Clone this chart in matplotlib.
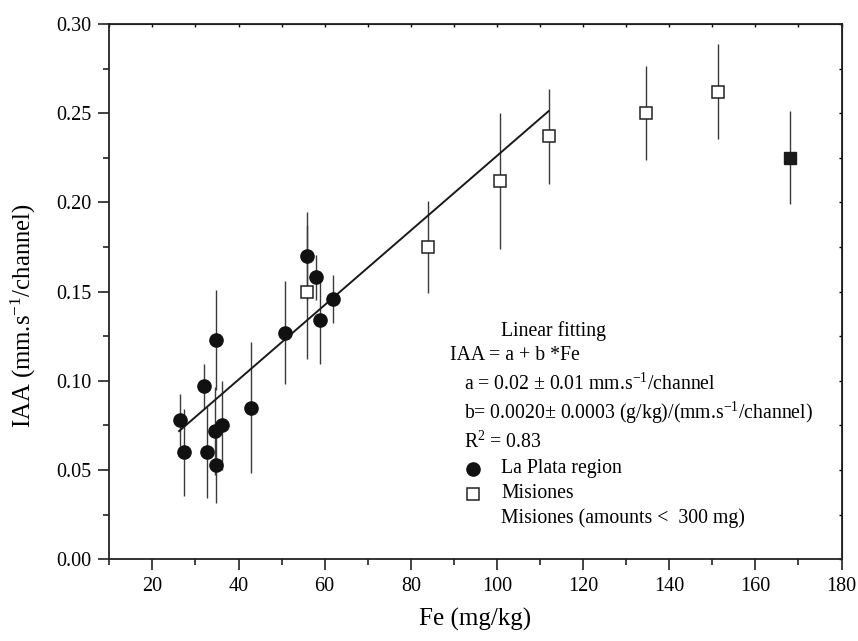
import matplotlib
matplotlib.use("Agg")
import matplotlib.pyplot as plt
import numpy as np

plt.rcParams['font.family'] = ['Liberation Serif', 'DejaVu Serif']
plt.rcParams['mathtext.fontset'] = 'custom'
plt.rcParams['mathtext.rm'] = 'Liberation Serif'
plt.rcParams['mathtext.it'] = 'Liberation Serif:italic'

# La Plata region (filled circles)
lp_fe = [26.5, 27.3, 31.9, 32.6, 34.7, 34.7, 34.6, 36.1, 43.0, 50.9, 56.0, 58.0, 59.0, 61.9]
lp_iaa = [0.078, 0.060, 0.097, 0.060, 0.123, 0.053, 0.072, 0.075, 0.085, 0.127, 0.170, 0.158, 0.134, 0.146]
lp_err = [0.0145, 0.0245, 0.0126, 0.0255, 0.0282, 0.0213, 0.0246, 0.0248, 0.0367, 0.0287, 0.0245, 0.0128, 0.0248, 0.0133]

# Misiones (open squares)
mi_fe = [56.0, 84.0, 100.8, 112.0, 134.5, 151.3]
mi_iaa = [0.150, 0.175, 0.212, 0.237, 0.250, 0.262]
mi_err = [0.0375, 0.0257, 0.0382, 0.0264, 0.0264, 0.0266]

# Misiones (amounts < 300 mg) (filled square)
ms_fe = [168.1]
ms_iaa = [0.225]
ms_err = [0.0261]

# Linear fit
fit_a = 0.0171
fit_b = 0.00209
fit_range = [26.2, 112.0]

fig = plt.figure(figsize=(8.58, 6.41), dpi=100)
ax = fig.add_axes([0.1274, 0.1274, 0.9808 - 0.1274, 0.9626 - 0.1274])

ecol = '#3a3a3a'
ax.errorbar(lp_fe, lp_iaa, yerr=lp_err, fmt='none', ecolor=ecol, elinewidth=1.0, capsize=0, zorder=2)
ax.errorbar(mi_fe, mi_iaa, yerr=mi_err, fmt='none', ecolor=ecol, elinewidth=1.0, capsize=0, zorder=2)
ax.errorbar(ms_fe, ms_iaa, yerr=ms_err, fmt='none', ecolor=ecol, elinewidth=1.0, capsize=0, zorder=2)

fx = np.array(fit_range)
ax.plot(fx, fit_a + fit_b * fx, color='#1a1a1a', lw=1.4, zorder=3)

ax.plot(lp_fe, lp_iaa, 'o', ms=9.5, mfc='#111111', mec='#111111', ls='none', zorder=4)
ax.plot(mi_fe, mi_iaa, 's', ms=8.5, mfc='white', mec='#222222', mew=1.1, ls='none', zorder=4)
ax.plot(ms_fe, ms_iaa, 's', ms=8.5, mfc='#1a1a1a', mec='#1a1a1a', ls='none', zorder=4)

ax.set_xlim(10, 180)
ax.set_ylim(0, 0.30)
ax.set_xticks([20, 40, 60, 80, 100, 120, 140, 160, 180])
ax.set_xticks(np.arange(10, 181, 10), minor=True)
ax.set_yticks([0.0, 0.05, 0.10, 0.15, 0.20, 0.25, 0.30])
ax.set_yticklabels(['0.00', '0.05', '0.10', '0.15', '0.20', '0.25', '0.30'])
ax.set_yticks(np.arange(0, 0.301, 0.025), minor=True)

for s in ax.spines.values():
    s.set_linewidth(1.3)
    s.set_color('#222222')

ax.tick_params(which='major', direction='out', length=8, width=1.2, labelsize=14.5, color='#222222', pad=5)
ax.tick_params(which='minor', direction='out', length=4.5, width=1.2, color='#222222')
secx = ax.secondary_xaxis('top')
secx.set_xticks(np.arange(10, 181, 10))
secx.tick_params(direction='in', length=2, width=1.0, labeltop=False)
secy = ax.secondary_yaxis('right')
secy.set_yticks(np.arange(0, 0.301, 0.025))
secy.tick_params(direction='in', length=2, width=1.0, labelright=False)
ax.tick_params(top=False, right=False, which='both')

ax.set_xlabel('Fe (mg/kg)', fontsize=18, labelpad=8)
ax.set_ylabel('IAA (mm.s$^{\\mathregular{-1}}$/channel)', fontsize=17.8, labelpad=10)
ax.yaxis.set_label_coords(-0.097, 0.4545)

# annotation / legend block
tfs = 14.2
def px(xp, yp):
    return (xp / 858.0, 1 - yp / 641.0)

fig.text(*px(501, 331), 'Linear fitting', fontsize=tfs, va='center', ha='left')
fig.text(*px(450, 356), 'IAA = a + b *Fe', fontsize=tfs, va='center', ha='left')
fig.text(*px(464, 384), 'a = 0.02 \u00b1 0.01 mm.s$^{\\mathregular{-1}}$/channel', fontsize=tfs, va='center', ha='left')
fig.text(*px(464, 413), 'b= 0.0020\u00b1 0.0003 (g/kg)/(mm.s$^{\\mathregular{-1}}$/channel)', fontsize=tfs, va='center', ha='left')
fig.text(*px(464, 442), 'R$^{\\mathregular{2}}$ = 0.83', fontsize=tfs, va='center', ha='left')
fig.text(*px(501, 469), 'La Plata region', fontsize=tfs, va='center', ha='left')
fig.text(*px(501, 494), 'Misiones', fontsize=tfs, va='center', ha='left')
fig.text(*px(501, 518), 'Misiones (amounts <  300 mg)', fontsize=tfs, va='center', ha='left')

lx, ly1 = px(472.7, 469.3)
_, ly2 = px(472.7, 494.3)
fig.add_artist(matplotlib.lines.Line2D([lx], [ly1], marker='o', ms=9.5, mfc='#111111', mec='#111111', ls='none', transform=fig.transFigure))
fig.add_artist(matplotlib.lines.Line2D([lx], [ly2], marker='s', ms=8.5, mfc='white', mec='#222222', mew=1.1, ls='none', transform=fig.transFigure))

fig.savefig('out.png', dpi=100)
